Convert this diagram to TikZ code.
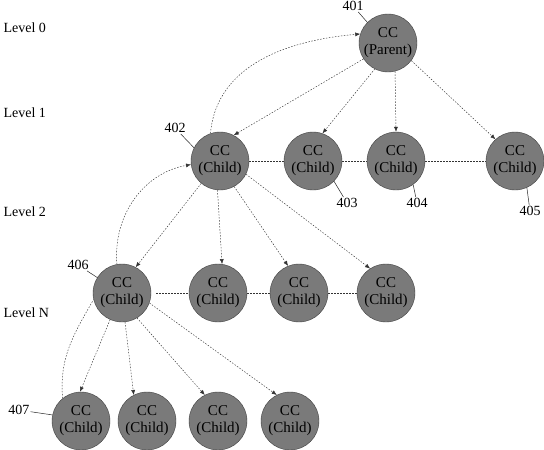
\documentclass[tikz,border=0pt]{standalone}
\usepackage{fontspec}
\setmainfont{Liberation Serif}
\usetikzlibrary{arrows.meta}

\begin{document}
\begin{tikzpicture}[
  x=1pt, y=-1pt,
  >={Latex[length=5pt,width=4pt]},
  cc/.style={circle, draw=black!75, fill=black!52, minimum size=58pt, inner sep=0pt, align=center, font=\fontsize{15}{17}\selectfont},
  lvl/.style={anchor=west, font=\fontsize{14}{16}\selectfont},
  num/.style={font=\fontsize{14}{16}\selectfont, inner sep=1pt},
  link/.style={black!80, line width=0.45pt, dash pattern=on 1.5pt off 1.5pt},
  tag/.style={black!85, line width=0.5pt}
]
\useasboundingbox (0,0) rectangle (544,450);

% level labels
\node[lvl] (l0) at (0,28) {Level 0};
\node[lvl] (l1) at (0,113) {Level 1};
\node[lvl] (l2) at (0,212) {Level 2};
\node[lvl] (lN) at (0,313) {Level N};

% nodes
\node[cc] (n401) at (388,43) {CC\\(Parent)};
\node[cc] (n402) at (220,161) {CC\\(Child)};
\node[cc] (n403) at (313,161) {CC\\(Child)};
\node[cc] (n404) at (396,161) {CC\\(Child)};
\node[cc] (n405) at (515,161) {CC\\(Child)};
\node[cc] (n406) at (122,293) {CC\\(Child)};
\node[cc] (nN2) at (218,293) {CC\\(Child)};
\node[cc] (nN3) at (299,293) {CC\\(Child)};
\node[cc] (nN4) at (386,293) {CC\\(Child)};
\node[cc] (n407) at (81,421) {CC\\(Child)};
\node[cc] (nB2) at (147,421) {CC\\(Child)};
\node[cc] (nB3) at (218,421) {CC\\(Child)};
\node[cc] (nB4) at (290,421) {CC\\(Child)};

% reference numbers
\node[num] (t401) at (353,6) {401};
\node[num] (t402) at (175,128) {402};
\node[num] (t403) at (347,203) {403};
\node[num] (t404) at (417,203) {404};
\node[num] (t405) at (530,211) {405};
\node[num] (t406) at (78,265) {406};
\node[num] (t407) at (19,410) {407};
\draw[tag] (t401) -- (n401.135);
\draw[tag] (t402) -- (n402.153);
\draw[tag] (t403) -- (n403.-44);
\draw[tag] (t404) -- (n404.-54);
\draw[tag] (t405) -- (n405.-66);
\draw[tag] (t406) -- (n406.148);
\draw[tag] (t407) -- (n407.168);

% parent to level 1
\draw[link,->] (n401.213) -- (n402.62);
\draw[link,->] (n401.243) -- (n403.71);
\draw[link,->] (n401.284) -- (n404.north);
\draw[link,->] (n401.-37) -- (n405.132);

% level 1 to level N
\draw[link,->] (n402.230) -- (n406.62);
\draw[link,->] (n402.265) -- (nN2.82);
\draw[link,->] (n402.299) -- (nN3.112);
\draw[link,->] (n402.333) -- (nN4.123);

% level N to bottom row
\draw[link,->] (n406.246) -- (n407.92);
\draw[link,->] (n406.276) -- (nB2.117);
\draw[link,->] (n406.301) -- (nB3.117);
\draw[link,->] (n406.340) -- (nB4.117);

% same-level links
\draw[link] (n402) -- (n403);
\draw[link] (n403) -- (n404);
\draw[link] (n404) -- (n405);
\draw[link,shorten <=5pt] (n406) -- (nN2);
\draw[link] (nN2) -- (nN3);
\draw[link] (nN3) -- (nN4);

% upward curves
\draw[link,->] (n402.109) to[out=85, in=185] (n401.162);
\draw[link,->] (n406.100) to[out=95, in=190] (n402.187);
\draw[link] (n407.129) to[out=95, in=240] (n406.193);
\end{tikzpicture}
\end{document}
